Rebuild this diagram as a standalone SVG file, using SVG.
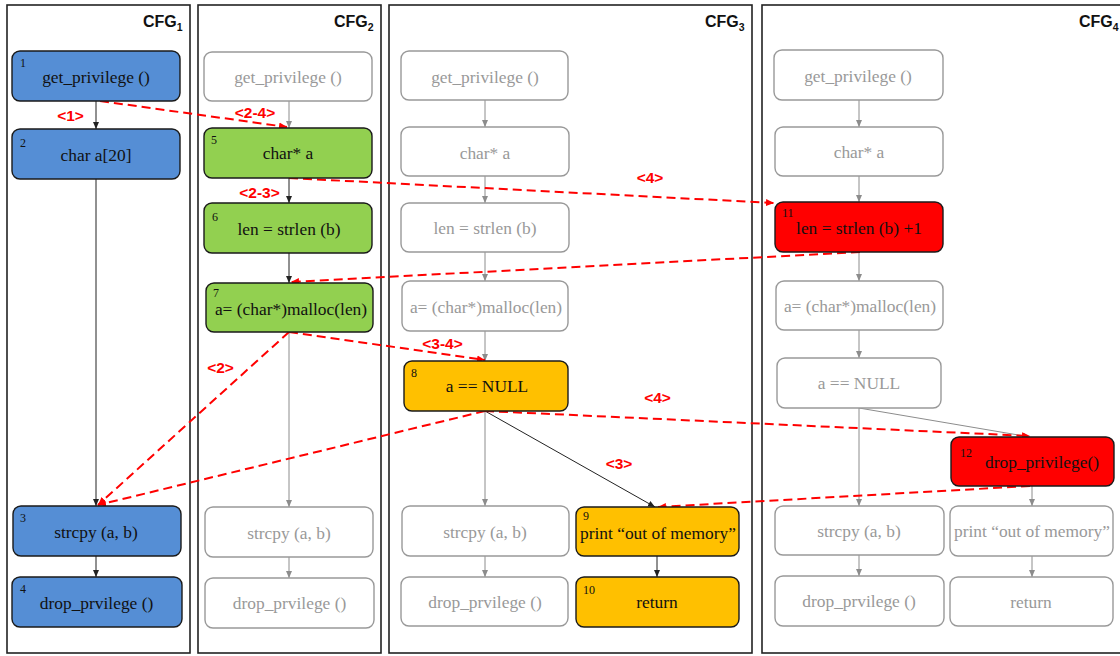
<svg xmlns="http://www.w3.org/2000/svg" width="1120" height="656" viewBox="0 0 1120 656">
<defs>
<style>
.panel{fill:#fff;stroke:#222;stroke-width:1.6}
.title{font-family:"Liberation Sans",Arial,sans-serif;font-weight:bold;font-size:16px;fill:#111}
.sub{font-size:10.5px}
.n rect{stroke:#1a1a1a;stroke-width:1.4}
.g rect{fill:#fff;stroke:#999;stroke-width:1.4}
.t{font-family:"Liberation Serif","Times New Roman",serif;font-size:17.4px;text-anchor:middle}
.n .t,.num{fill:#111}
.g .t{fill:#999}
.num{font-family:"Liberation Serif","Times New Roman",serif;font-size:12px}
.blue rect{fill:#558ED5}
.green rect{fill:#92D050}
.orange rect{fill:#FFC000}
.red rect{fill:#FF0000}
.dk{stroke:#222;stroke-width:1;fill:none;marker-end:url(#ad)}
.gr{stroke:#8c8c8c;stroke-width:1;fill:none;marker-end:url(#ag)}
.rd{stroke:#FF0000;stroke-width:2;stroke-dasharray:9 5;fill:none;marker-end:url(#ar)}
.lbl{font-family:"Liberation Sans",Arial,sans-serif;font-weight:bold;font-size:15.5px;fill:#FF0000;text-anchor:middle}
</style>
<marker id="ad" markerUnits="userSpaceOnUse" markerWidth="8" markerHeight="8" refX="7" refY="4" orient="auto"><path d="M0,1 L7,4 L0,7 z" fill="#222"/></marker>
<marker id="ag" markerUnits="userSpaceOnUse" markerWidth="8" markerHeight="8" refX="7" refY="4" orient="auto"><path d="M0,1 L7,4 L0,7 z" fill="#8c8c8c"/></marker>
<marker id="ar" markerUnits="userSpaceOnUse" markerWidth="10" markerHeight="10" refX="8" refY="5" orient="auto"><path d="M0,1.5 L8,5 L0,8.5 z" fill="#FF0000"/></marker>
</defs>
<rect width="1120" height="656" fill="#fff"/>

<g id="panels">
<g id="cfg1"><rect class="panel" x="7" y="5" width="183" height="648"/><text class="title" x="143" y="27">CFG<tspan class="sub" dy="4">1</tspan></text></g>
<g id="cfg2"><rect class="panel" x="198" y="5" width="183" height="648"/><text class="title" x="334" y="27">CFG<tspan class="sub" dy="4">2</tspan></text></g>
<g id="cfg3"><rect class="panel" x="389" y="5" width="363" height="648"/><text class="title" x="705" y="27">CFG<tspan class="sub" dy="4">3</tspan></text></g>
<g id="cfg4"><rect class="panel" x="762" y="5" width="362" height="648"/><text class="title" x="1079" y="27">CFG<tspan class="sub" dy="4">4</tspan></text></g>
</g>

<g id="connectors">
<line class="dk" x1="96" y1="101" x2="96" y2="129"/>
<line class="dk" x1="96" y1="179" x2="96" y2="506"/>
<line class="dk" x1="96" y1="556" x2="96" y2="577"/>
<line class="gr" x1="289" y1="101" x2="289" y2="128"/>
<line class="dk" x1="289" y1="178" x2="289" y2="203"/>
<line class="dk" x1="289" y1="253" x2="289" y2="283"/>
<line class="gr" x1="289" y1="332" x2="289" y2="507"/>
<line class="gr" x1="289" y1="557" x2="289" y2="578"/>
<line class="gr" x1="485" y1="100" x2="485" y2="127"/>
<line class="gr" x1="485" y1="176" x2="485" y2="203"/>
<line class="gr" x1="485" y1="252" x2="485" y2="281"/>
<line class="gr" x1="485" y1="331" x2="485" y2="361"/>
<line class="gr" x1="485" y1="411" x2="485" y2="506"/>
<line class="dk" x1="485" y1="411" x2="655" y2="507"/>
<line class="gr" x1="485" y1="556" x2="485" y2="577"/>
<line class="dk" x1="657" y1="556" x2="657" y2="577"/>
<line class="gr" x1="859" y1="100" x2="859" y2="127"/>
<line class="gr" x1="859" y1="176" x2="859" y2="202"/>
<line class="gr" x1="859" y1="252" x2="859" y2="281"/>
<line class="gr" x1="859" y1="330" x2="859" y2="358"/>
<line class="gr" x1="859" y1="408" x2="859" y2="506"/>
<line class="gr" x1="859" y1="408" x2="1030" y2="437"/>
<line class="gr" x1="1032" y1="486" x2="1032" y2="506"/>
<line class="gr" x1="859" y1="555" x2="859" y2="576"/>
<line class="gr" x1="1032" y1="556" x2="1032" y2="577"/>

<line class="rd" x1="100" y1="101" x2="287" y2="127"/>
<line class="rd" x1="289" y1="178" x2="774" y2="203"/>
<line class="rd" x1="860" y1="252" x2="291" y2="282"/>
<line class="rd" x1="289" y1="332" x2="98" y2="505"/>
<line class="rd" x1="289" y1="332" x2="485" y2="360"/>
<line class="rd" x1="485" y1="411" x2="98" y2="505"/>
<line class="rd" x1="485" y1="411" x2="1030" y2="436"/>
<line class="rd" x1="1030" y1="486" x2="658" y2="507"/>

<text class="lbl" x="70.5" y="121">&lt;1&gt;</text>
<text class="lbl" x="255" y="118">&lt;2-4&gt;</text>
<text class="lbl" x="259.5" y="198">&lt;2-3&gt;</text>
<text class="lbl" x="650" y="183">&lt;4&gt;</text>
<text class="lbl" x="220.5" y="373">&lt;2&gt;</text>
<text class="lbl" x="442.5" y="349">&lt;3-4&gt;</text>
<text class="lbl" x="657.5" y="403">&lt;4&gt;</text>
<text class="lbl" x="619" y="469">&lt;3&gt;</text>
</g>

<g id="n1" class="n blue"><rect x="12" y="51" width="168" height="50" rx="8"/><text class="num" x="20" y="67">1</text><text class="t" x="96" y="83">get_privilege ()</text></g>
<g id="n2" class="n blue"><rect x="12" y="129" width="168" height="50" rx="8"/><text class="num" x="20" y="147">2</text><text class="t" x="96" y="161">char a[20]</text></g>
<g id="n3" class="n blue"><rect x="13" y="506" width="168" height="50" rx="8"/><text class="num" x="20" y="522">3</text><text class="t" x="96" y="538">strcpy (a, b)</text></g>
<g id="n4" class="n blue"><rect x="12" y="577" width="170" height="50" rx="8"/><text class="num" x="20" y="593">4</text><text class="t" x="96.5" y="609">drop_prvilege ()</text></g>

<g id="c2g1" class="g"><rect x="204" y="52" width="168" height="49" rx="8"/><text class="t" x="288" y="83">get_privilege ()</text></g>
<g id="n5" class="n green"><rect x="204" y="128" width="168" height="50" rx="8"/><text class="num" x="211" y="144">5</text><text class="t" x="288" y="159">char* a</text></g>
<g id="n6" class="n green"><rect x="204" y="203" width="168" height="50" rx="8"/><text class="num" x="212" y="221">6</text><text class="t" x="289" y="235">len = strlen (b)</text></g>
<g id="n7" class="n green"><rect x="206" y="283" width="167" height="49" rx="8"/><text class="num" x="213" y="297">7</text><text class="t" x="291" y="315">a= (char*)malloc(len)</text></g>
<g id="c2g5" class="g"><rect x="205" y="507" width="168" height="50" rx="8"/><text class="t" x="289" y="539">strcpy (a, b)</text></g>
<g id="c2g6" class="g"><rect x="205" y="578" width="169" height="50" rx="8"/><text class="t" x="289.5" y="609">drop_prvilege ()</text></g>

<g id="c3g1" class="g"><rect x="401" y="51" width="167" height="49" rx="8"/><text class="t" x="485" y="83">get_privilege ()</text></g>
<g id="c3g2" class="g"><rect x="401" y="127" width="168" height="49" rx="8"/><text class="t" x="485" y="159">char* a</text></g>
<g id="c3g3" class="g"><rect x="401" y="203" width="168" height="49" rx="8"/><text class="t" x="485" y="234">len = strlen (b)</text></g>
<g id="c3g4" class="g"><rect x="402" y="281" width="166" height="50" rx="8"/><text class="t" x="486" y="313">a= (char*)malloc(len)</text></g>
<g id="n8" class="n orange"><rect x="404" y="361" width="164" height="50" rx="8"/><text class="num" x="411" y="377">8</text><text class="t" x="487" y="392">a == NULL</text></g>
<g id="c3g6" class="g"><rect x="402" y="506" width="167" height="50" rx="8"/><text class="t" x="485" y="538">strcpy (a, b)</text></g>
<g id="c3g7" class="g"><rect x="401" y="577" width="167" height="49" rx="8"/><text class="t" x="485" y="608">drop_prvilege ()</text></g>
<g id="n9" class="n orange"><rect x="576" y="507" width="163" height="49" rx="8"/><text class="num" x="583" y="520">9</text><text class="t" x="658" y="539">print “out of memory”</text></g>
<g id="n10" class="n orange"><rect x="576" y="577" width="163" height="50" rx="8"/><text class="num" x="583" y="594">10</text><text class="t" x="657" y="608">return</text></g>

<g id="c4g1" class="g"><rect x="774" y="50" width="169" height="50" rx="8"/><text class="t" x="858" y="82">get_privilege ()</text></g>
<g id="c4g2" class="g"><rect x="775" y="127" width="168" height="49" rx="8"/><text class="t" x="859" y="158">char* a</text></g>
<g id="n11" class="n red"><rect x="775" y="202" width="168" height="50" rx="8"/><text class="num" x="782" y="217">11</text><text class="t" x="859" y="234">len = strlen (b) +1</text></g>
<g id="c4g4" class="g"><rect x="776" y="281" width="167" height="49" rx="8"/><text class="t" x="860" y="312">a= (char*)malloc(len)</text></g>
<g id="c4g5" class="g"><rect x="777" y="358" width="164" height="50" rx="8"/><text class="t" x="859" y="389">a == NULL</text></g>
<g id="n12" class="n red"><rect x="951" y="437" width="163" height="49" rx="8"/><text class="num" x="960" y="457">12</text><text class="t" x="1042" y="468">drop_privilege()</text></g>
<g id="c4g7" class="g"><rect x="775" y="506" width="169" height="49" rx="8"/><text class="t" x="859" y="537">strcpy (a, b)</text></g>
<g id="c4g8" class="g"><rect x="950" y="506" width="163" height="50" rx="8"/><text class="t" x="1032" y="537">print “out of memory”</text></g>
<g id="c4g9" class="g"><rect x="775" y="576" width="169" height="50" rx="8"/><text class="t" x="859" y="607">drop_prvilege ()</text></g>
<g id="c4g10" class="g"><rect x="950" y="577" width="163" height="49" rx="8"/><text class="t" x="1031" y="608">return</text></g>
</svg>
